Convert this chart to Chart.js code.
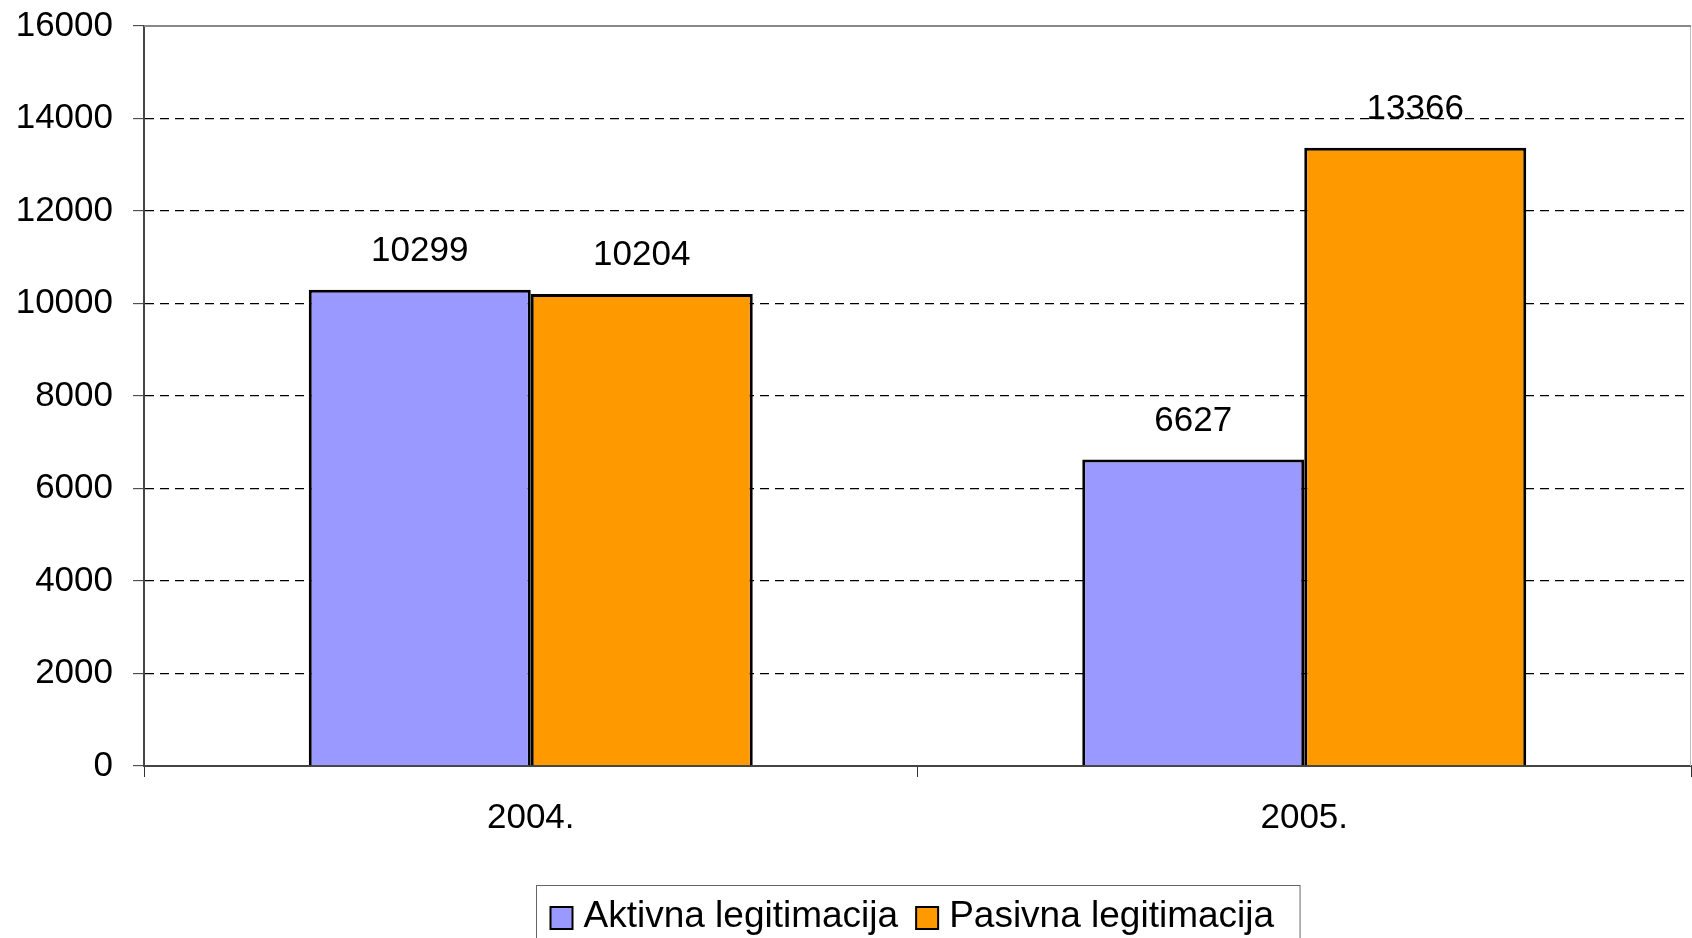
<!DOCTYPE html>
<html>
<head>
<meta charset="utf-8">
<script src="https://cdn.jsdelivr.net/npm/chart.js@4.4.0/dist/chart.umd.min.js"></script>
<style>
html,body{margin:0;padding:0;background:#fff;overflow:hidden;}
#wrap{width:1692px;height:938px;position:relative;}
</style>
</head>
<body>
<div id="wrap"><canvas id="c" width="1692" height="938"></canvas></div>
<script>
const categories = ["2004.", "2005."];
const aktivna = [10299, 6627];
const pasivna = [10204, 13366];
const seriesLabels = ["Aktivna legitimacija", "Pasivna legitimacija"];
const yTicks = [0, 2000, 4000, 6000, 8000, 10000, 12000, 14000, 16000];

const FONT = "'Liberation Sans', Arial, sans-serif";

const frame = {
  id: 'frame',
  beforeDatasetsDraw(chart) {
    const {ctx, chartArea: a} = chart;
    ctx.save();
    ctx.strokeStyle = '#bdbdbd';
    ctx.lineWidth = 1;
    ctx.beginPath();
    ctx.moveTo(a.right - 0.5, a.top);
    ctx.lineTo(a.right - 0.5, a.bottom);
    ctx.stroke();
    ctx.strokeStyle = '#888';
    ctx.lineWidth = 2;
    ctx.beginPath();
    ctx.moveTo(a.left, a.top);
    ctx.lineTo(a.right, a.top);
    ctx.stroke();
    ctx.restore();
  }
};

const valueLabels = {
  id: 'valueLabels',
  afterDatasetsDraw(chart) {
    const {ctx} = chart;
    ctx.save();
    ctx.font = '35px ' + FONT;
    ctx.fillStyle = '#000';
    ctx.textAlign = 'center';
    ctx.textBaseline = 'alphabetic';
    chart.data.datasets.forEach((ds, di) => {
      const meta = chart.getDatasetMeta(di);
      meta.data.forEach((el, i) => {
        ctx.fillText(String(ds.data[i]), el.x, el.y - 29);
      });
    });
    ctx.restore();
  }
};

const boxLegend = {
  id: 'boxLegend',
  afterDraw(chart) {
    const {ctx, chartArea: a} = chart;
    const ds = chart.data.datasets;
    ctx.save();
    ctx.font = '37px ' + FONT;
    const padL = 14, padR = 26, sq = 22, gapT = 11, gapItem = 18;
    const widths = ds.map(d => ctx.measureText(d.label).width);
    let total = padL + padR;
    widths.forEach((w, i) => { total += sq + gapT + w + (i < widths.length - 1 ? gapItem : 0); });
    const cx = (a.left + a.right) / 2;
    const left = Math.round(cx - total / 2) + 0.5;
    const top = 885.5;
    ctx.strokeStyle = '#666';
    ctx.lineWidth = 1;
    ctx.strokeRect(left, top, total, 80);
    let x = left + padL;
    ds.forEach((d, i) => {
      ctx.fillStyle = d.backgroundColor;
      ctx.fillRect(x, 907, sq, sq);
      ctx.strokeStyle = '#000';
      ctx.lineWidth = 2;
      ctx.strokeRect(x, 907, sq, sq);
      x += sq + gapT;
      ctx.fillStyle = '#000';
      ctx.textBaseline = 'alphabetic';
      ctx.textAlign = 'left';
      ctx.fillText(d.label, x, 927);
      x += widths[i] + gapItem;
    });
    ctx.restore();
  }
};

new Chart(document.getElementById('c'), {
  type: 'bar',
  data: {
    labels: categories,
    datasets: [
      { label: seriesLabels[0], data: aktivna, backgroundColor: '#9999FF', borderColor: '#000', borderWidth: 3 },
      { label: seriesLabels[1], data: pasivna, backgroundColor: '#FF9900', borderColor: '#000', borderWidth: 3 }
    ]
  },
  options: {
    responsive: false,
    animation: false,
    events: [],
    layout: { padding: { left: 0, top: 26, right: 1, bottom: 0 } },
    datasets: { bar: { categoryPercentage: 0.574, barPercentage: 1.0 } },
    plugins: { legend: { display: false }, tooltip: { enabled: false }, title: { display: false } },
    scales: {
      x: {
        afterFit(s) { s.height = 172; s.paddingLeft = 0; s.paddingRight = 0; },
        grid: { display: true, drawOnChartArea: false, drawTicks: true, tickLength: 11, tickColor: '#333', tickWidth: 1, offset: true },
        border: { display: true, color: '#444', width: 2 },
        ticks: { color: '#000', font: { family: FONT, size: 35 }, padding: 20 }
      },
      y: {
        min: 0, max: 16000,
        afterFit(s) { s.width = 144; s.paddingTop = 0; s.paddingBottom = 0; },
        afterBuildTicks(s) { s.ticks = yTicks.map(v => ({ value: v })); },
        grid: {
          color: ctx => (ctx.tick && (ctx.tick.value === 0 || ctx.tick.value === 16000)) ? 'rgba(0,0,0,0)' : '#000',
          lineWidth: 1.3,
          drawTicks: true, tickLength: 11, tickColor: '#333', tickWidth: 1
        },
        border: { display: true, color: '#444', width: 2, dash: [9, 6] },
        ticks: { color: '#000', font: { family: FONT, size: 35 }, padding: 20, callback: v => String(v) }
      }
    }
  },
  plugins: [frame, valueLabels, boxLegend]
});
</script>
</body>
</html>
